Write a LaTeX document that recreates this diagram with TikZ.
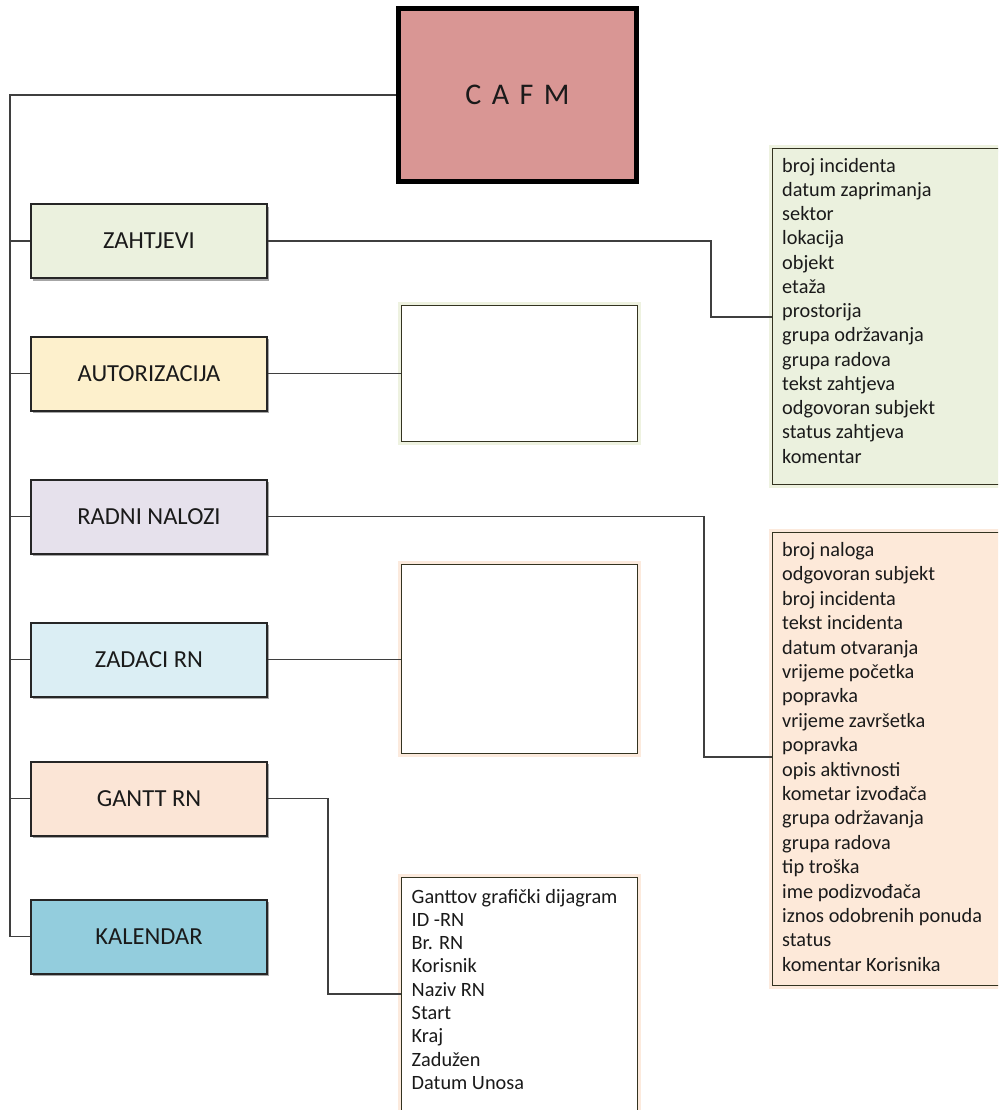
\documentclass[tikz,border=0pt]{standalone}
\usepackage{fontspec}
\setmainfont{Carlito}
\usetikzlibrary{shadows}

\definecolor{ink}{HTML}{1A1A1A}
\definecolor{linegray}{HTML}{3F3F3F}
\definecolor{boxedge}{HTML}{262626}
\definecolor{cafmfill}{HTML}{D99694}
\definecolor{zahfill}{HTML}{EBF1DE}
\definecolor{autfill}{HTML}{FDF0CC}
\definecolor{radfill}{HTML}{E6E1EC}
\definecolor{zadfill}{HTML}{DBEEF4}
\definecolor{ganfill}{HTML}{FBE5D6}
\definecolor{kalfill}{HTML}{93CDDD}
\definecolor{listgreen}{HTML}{EBF1DE}
\definecolor{listpeach}{HTML}{FDE9D9}
\definecolor{glowgreen}{HTML}{DDE6C2}
\definecolor{glowpeach}{HTML}{FAD6BC}

\begin{document}
\begin{tikzpicture}[x=1pt,y=-1pt,
  link/.style={draw=linegray, line width=1.4pt},
  modbox/.style={rectangle, draw=boxedge, line width=2pt,
    minimum width=236pt, minimum height=74pt, inner sep=0pt,
    font=\fontsize{24.5}{29}\selectfont, text=ink,
    drop shadow={shadow xshift=2pt, shadow yshift=-2.5pt, opacity=0.35, fill=black}},
  panel/.style={rectangle, draw=boxedge!85!olive, line width=1.4pt, inner sep=0pt,
    anchor=north west, fill=white},
  glow/.style={preaction={draw=#1, line width=7pt, opacity=0.5}},
  item/.style={anchor=base west, inner sep=0pt, text=ink,
    font=\fontsize{20.3}{24}\selectfont},
]
\useasboundingbox (0,0) rectangle (998,1110);
\clip (0,0) rectangle (998,1110);

% root
\node[rectangle, draw=black, line width=5pt, fill=cafmfill,
      minimum width=238pt, minimum height=173pt, inner sep=0pt,
      font=\fontsize{30}{34}\selectfont, text=ink,
      drop shadow={shadow xshift=2pt, shadow yshift=-3pt, opacity=0.35, fill=black}]
  (cafm) at (517.5,95) {C\hspace{10.5pt}A\hspace{10.5pt}F\hspace{10.5pt}M};

% modules
\node[modbox, fill=zahfill] (zah) at (149,241)   {ZAHTJEVI};
\node[modbox, fill=autfill] (aut) at (149,373.5) {AUTORIZACIJA};
\node[modbox, fill=radfill] (rad) at (149,516.5) {RADNI NALOZI};
\node[modbox, fill=zadfill] (zad) at (149,659.5) {ZADACI RN};
\node[modbox, fill=ganfill] (gan) at (149,798.5) {GANTT RN};
\node[modbox, fill=kalfill] (kal) at (149,936.5) {KALENDAR};

% empty panels
\node[panel, glow=glowgreen, minimum width=236pt, minimum height=136pt] (autbox) at (401,305) {};
\node[panel, glow=glowpeach, minimum width=236pt, minimum height=189pt] (zadbox) at (401,564) {};

% field lists (running off the right edge)
\node[panel, glow=glowgreen, fill=listgreen, minimum width=300pt, minimum height=336pt] (zlist) at (772,148) {};
\node[panel, glow=glowpeach, fill=listpeach, minimum width=300pt, minimum height=453pt] (rlist) at (772,532) {};
\node[panel, glow=glowpeach, minimum width=236pt, minimum height=260pt] (glist) at (401,877) {};

\foreach \t [count=\i from 0] in {broj incidenta, datum zaprimanja, sektor, lokacija,
    objekt, etaža, prostorija, grupa održavanja, grupa radova, tekst zahtjeva,
    odgovoran subjekt, status zahtjeva, komentar}
  \node[item] (zl\i) at (782,172+24.25*\i) {\t};

\foreach \t [count=\i from 0] in {broj naloga, odgovoran subjekt, broj incidenta,
    tekst incidenta, datum otvaranja, vrijeme početka, popravka, vrijeme završetka,
    popravka, opis aktivnosti, kometar izvođača, grupa održavanja, grupa radova,
    tip troška, ime podizvođača, iznos odobrenih ponuda, status, komentar Korisnika}
  \node[item] (rl\i) at (782,556.5+24.4*\i) {\t};

\foreach \t [count=\i from 0] in {Ganttov grafički dijagram, ID -RN, Br. RN, Korisnik,
    Naziv RN, Start, Kraj, Zadužen, Datum Unosa}
  \node[item] (gl\i) at (411.5,903+23.3*\i) {\t};

% trunk on the left
\coordinate (trunk) at (10,0);
\draw[link] (cafm.west) -- (cafm.west -| trunk) -- (kal.west -| trunk) -- (kal.west);
\foreach \n in {zah,aut,rad,zad,gan}
  \draw[link] (\n.west -| trunk) -- (\n.west);

% module to detail connectors
\coordinate (zbend) at (711,317);
\draw[link] (zah.east) -| (zbend) -- (zbend -| zlist.west);
\draw[link] (aut.east) -- (aut.east -| autbox.west);
\coordinate (rbend) at (704,757);
\draw[link] (rad.east) -| (rbend) -- (rbend -| rlist.west);
\draw[link] (zad.east) -- (zad.east -| zadbox.west);
\coordinate (gbend) at (328,994);
\draw[link] (gan.east) -| (gbend) -- (gbend -| glist.west);
\end{tikzpicture}
\end{document}
